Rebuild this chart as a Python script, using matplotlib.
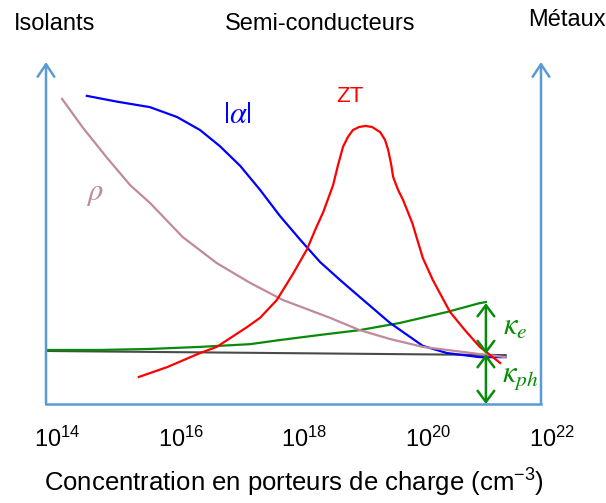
import matplotlib.pyplot as plt
from matplotlib.transforms import ScaledTranslation

plt.rcParams['font.family'] = ['Liberation Sans', 'DejaVu Sans']
plt.rcParams['mathtext.fontset'] = 'stix'

# x = log10(carrier concentration), y = arbitrary units (0-100)
tick_pos = [14, 16, 18, 20, 22]
tick_labels = [r'$\mathregular{10^{14}}$', r'$\mathregular{10^{16}}$', r'$\mathregular{10^{18}}$',
               r'$\mathregular{10^{20}}$', r'$\mathregular{10^{22}}$']

# Seebeck coefficient |alpha|
alpha_x = [14.66, 15.15, 15.68, 16.12, 16.49, 16.81, 17.14, 17.46, 17.78, 18.11, 18.43,
           18.75, 19.07, 19.56, 20.09, 20.48, 21.01, 21.43]
alpha_y = [90.1, 88.4, 86.8, 83.9, 80.1, 75.4, 69.6, 62.6, 55.0, 48.0, 41.5,
           36.3, 31.3, 23.7, 17.0, 14.9, 13.7, 13.7]

# resistivity rho
rho_x = [14.26, 14.60, 14.99, 15.36, 15.68, 16.21, 16.76, 17.30, 17.83, 18.59, 19.07,
         19.56, 20.09, 21.01, 21.43]
rho_y = [89.2, 80.7, 71.9, 64.0, 58.8, 48.8, 41.2, 35.4, 30.4, 25.2, 21.6,
         19.0, 16.7, 14.6, 13.7]

# figure of merit ZT
zt_x = [15.50, 15.96, 16.49, 16.76, 17.25, 17.46, 17.73, 17.99, 18.22, 18.35, 18.48, 18.64,
        18.72, 18.80, 18.88, 18.96, 19.06, 19.16, 19.27, 19.40, 19.48, 19.53, 19.58, 19.61,
        19.69, 19.77, 19.92, 20.09, 20.25, 20.53, 20.77, 21.01, 21.34]
zt_y = [7.9, 10.8, 14.9, 16.7, 22.5, 25.2, 30.4, 38.0, 45.3, 50.9, 56.1, 64.0,
        69.9, 75.2, 78.1, 80.1, 81.0, 81.3, 81.0, 79.5, 77.2, 74.3, 69.9, 66.4,
        62.6, 59.7, 52.9, 42.7, 36.3, 26.9, 21.6, 16.7, 12.0]

# total thermal conductivity kappa
kappa_x = [14.00, 14.87, 15.68, 16.49, 17.30, 17.78, 18.43, 19.07, 19.72, 20.48, 21.01, 21.11]
kappa_y = [15.8, 15.8, 16.1, 16.7, 17.5, 18.7, 20.2, 21.6, 23.7, 26.9, 29.5, 29.8]

# lattice thermal conductivity kappa_ph
kph_x = [14.0, 21.43]
kph_y = [15.5, 14.3]

# positions of the kappa_e / kappa_ph brackets
n_arrow = 21.11
k_levels = [0, 14.6, 29.5]

axis_c = '#5B9BD5'
green = '#0A8A0A'

fig = plt.figure(figsize=(6.06, 5.03), dpi=100)
ax = fig.add_axes([46 / 606, 99 / 503, 495 / 606, 342 / 503])
ax.set_xlim(14, 22)
ax.set_ylim(0, 100)
for s in ax.spines.values():
    s.set_visible(False)
ax.set_yticks([])
ax.set_xticks(tick_pos, tick_labels, fontsize=17)
ax.tick_params(axis='x', length=0, pad=16)
shift = ScaledTranslation(0.11, 0, fig.dpi_scale_trans)
for lab in ax.get_xticklabels():
    lab.set_transform(lab.get_transform() + shift)

# axes drawn as arrows
for xa in [14, 22]:
    ax.annotate('', xy=(xa, 100), xytext=(xa, 0),
                arrowprops=dict(arrowstyle='->,head_length=0.45,head_width=0.3', color=axis_c,
                                lw=1.8, shrinkA=0, shrinkB=0, mutation_scale=20),
                annotation_clip=False)
ax.plot([14, 22], [0, 0], color=axis_c, lw=1.8, clip_on=False)

# curves
ax.plot(kph_x, kph_y, color='#4a4a4a', lw=1.5)
ax.plot(kappa_x, kappa_y, color=green, lw=1.6)
ax.plot(alpha_x, alpha_y, color='#0000FF', lw=1.6)
ax.plot(rho_x, rho_y, color='#C08A9A', lw=1.6)
ax.plot(zt_x, zt_y, color='#FF0000', lw=1.6)

# kappa_e and kappa_ph double arrows
for y0, y1 in zip(k_levels[:-1], k_levels[1:]):
    ax.annotate('', xy=(n_arrow, y1), xytext=(n_arrow, y0),
                arrowprops=dict(arrowstyle='<->,head_length=0.4,head_width=0.3', color=green,
                                lw=1.8, shrinkA=0, shrinkB=0, mutation_scale=20),
                annotation_clip=False)

# curve labels
ax.text(17.09, 84.5, r'$|\alpha|$', color='#0000FF', fontsize=22, ha='center', va='center')
ax.text(18.91, 89.8, 'ZT', color='#FF0000', fontsize=16, ha='center', va='center')
ax.text(14.79, 61.7, r'$\rho$', color='#C08A9A', fontsize=22, ha='center', va='center')
ax.text(21.58, 22.5, r'$\kappa_e$', color=green, fontsize=22, ha='center', va='center')
ax.text(21.66, 7.9, r'$\kappa_{ph}$', color=green, fontsize=22, ha='center', va='center')

# region labels and x label
fig.text(55 / 606, 1 - 24 / 503, 'Isolants', fontsize=17, ha='center', va='center')
fig.text(320 / 606, 1 - 24 / 503, 'Semi-conducteurs', fontsize=17, ha='center', va='center')
fig.text(567 / 606, 1 - 20 / 503, 'Métaux', fontsize=17, ha='center', va='center')
fig.text(294 / 606, 1 - 483 / 503, r'Concentration en porteurs de charge (cm$\mathregular{^{-3}}$)',
         fontsize=18.5, ha='center', va='center')

fig.savefig('out.png', dpi=100)
